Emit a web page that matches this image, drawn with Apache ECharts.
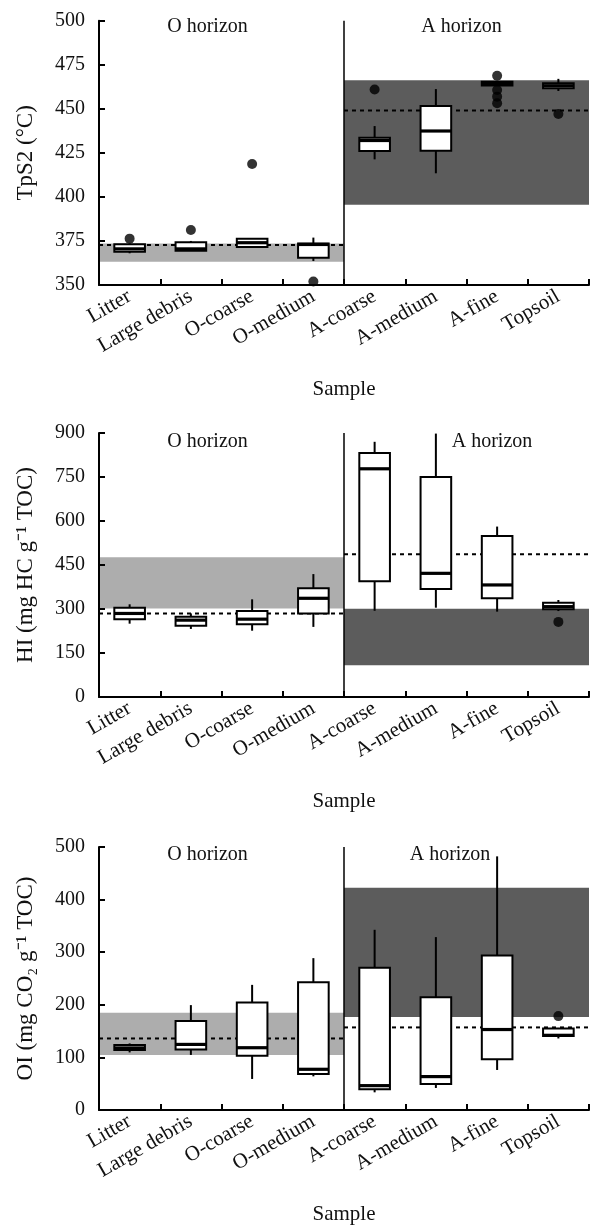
<!DOCTYPE html>
<html><head><meta charset="utf-8">
<script src="https://cdn.jsdelivr.net/npm/echarts@6/dist/echarts.min.js"></script>
<style>html,body{margin:0;padding:0;background:#fff}#c{width:590px;height:1228px}</style>
</head><body><div id="c"></div>
<script>
const categories = ['Litter','Large debris','O-coarse','O-medium','A-coarse','A-medium','A-fine','Topsoil'];

// Panel 1: TpS2 (°C)
const tpsMin    = [368.0, 369.5, 371.5, 363.6, 421.3, 413.4, 463.2, 460.1];
const tpsQ1     = [368.9, 369.5, 371.6, 365.5, 426.0, 426.2, 463.2, 461.6];
const tpsMedian = [370.5, 370.5, 374.0, 373.0, 432.0, 437.4, 464.3, 463.1];
const tpsQ3     = [373.1, 374.2, 376.3, 373.5, 433.6, 451.6, 465.4, 464.5];
const tpsMax    = [373.5, 375.0, 376.5, 376.9, 440.2, 461.2, 465.4, 467.0];
const tpsOutCat = ['Litter','Large debris','O-coarse','O-medium','A-coarse','A-fine','A-fine','A-fine','A-fine','Topsoil'];
const tpsOutVal = [376.3, 381.2, 418.7, 352.0, 461.0, 468.8, 460.7, 456.9, 453.1, 447.0];
const tpsOBand  = [363.2, 373.6];
const tpsABand  = [395.6, 466.2];
const tpsOMean  = 372.7;
const tpsAMean  = 449.0;
const tpsTicks  = [350, 500, 25];

// Panel 2: HI
const hiMin    = [250, 232, 226, 239, 294, 304.5, 291, 293];
const hiQ1     = [265.4, 243, 248.4, 285, 394.5, 368, 336.5, 299];
const hiMedian = [284.8, 262, 265.4, 336.5, 778, 421.6, 382, 308];
const hiQ3     = [304.5, 274, 293, 370.5, 831.6, 749.6, 549, 321.5];
const hiMax    = [316, 285, 333, 419, 870, 898, 581, 330.7];
const hiOutCat = ['Topsoil'];
const hiOutVal = [256];
const hiOBand  = [302, 476];
const hiABand  = [108, 301];
const hiOMean  = 285;
const hiAMean  = 487;
const hiTicks  = [0, 900, 150];

// Panel 3: OI
const oiMin    = [109.5, 104.7, 59, 64, 33.6, 41.9, 76.1, 136];
const oiQ1     = [114, 115.2, 103, 68.5, 39.3, 49.5, 96.4, 140.5];
const oiMedian = [118, 124.7, 118.4, 77.4, 46.3, 63.5, 153, 142];
const oiQ3     = [123.4, 169, 204.5, 243, 270.3, 214.5, 293.8, 155];
const oiMax    = [126.6, 199.4, 237.9, 288.7, 342.6, 328.7, 482.2, 156];
const oiOutCat = ['Topsoil'];
const oiOutVal = [178.5];
const oiOBand  = [104.7, 185];
const oiABand  = [177, 422.6];
const oiOMean  = 136;
const oiAMean  = 157;
const oiTicks  = [0, 500, 100];

const yNames = ['TpS2 (°C)', 'HI (mg HC g\u207B\u00B9 TOC)', 'OI (mg CO\u2082 g\u207B\u00B9 TOC)'];
const xName = 'Sample';
const horizonNames = ['O horizon', 'A horizon'];

const FONT = "'Liberation Serif','Times New Roman',serif";
const TXT = '#111';
const LIGHT = '#adadad';
const DARK = '#5c5c5c';

const panels = [
  {min:tpsMin,q1:tpsQ1,med:tpsMedian,q3:tpsQ3,max:tpsMax,oc:tpsOutCat,ov:tpsOutVal,ob:tpsOBand,ab:tpsABand,om:tpsOMean,am:tpsAMean,t:tpsTicks},
  {min:hiMin,q1:hiQ1,med:hiMedian,q3:hiQ3,max:hiMax,oc:hiOutCat,ov:hiOutVal,ob:hiOBand,ab:hiABand,om:hiOMean,am:hiAMean,t:hiTicks},
  {min:oiMin,q1:oiQ1,med:oiMedian,q3:oiQ3,max:oiMax,oc:oiOutCat,ov:oiOutVal,ob:oiOBand,ab:oiABand,om:oiOMean,am:oiAMean,t:oiTicks}
];

const gridDefs = [
  {left:99, right:1, top:20.7, height:264.3},
  {left:99, right:1, top:433, height:264},
  {left:99, right:1, top:847, height:263}
];
const horizonPos = [
  {o:[207.5, 27], a:[461.5, 27]},
  {o:[207.5, 442], a:[492, 442]},
  {o:[207.5, 855], a:[450, 855]}
];

function renderBox(params, api) {
  const x = api.value(0);
  const lo = api.coord([x, api.value(1)]);
  const q1 = api.coord([x, api.value(2)]);
  const md = api.coord([x, api.value(3)]);
  const q3 = api.coord([x, api.value(4)]);
  const hi = api.coord([x, api.value(5)]);
  const cx = lo[0];
  const bw = api.size([1, 0])[0] * 0.5;
  const st = {stroke:'#000', lineWidth:2};
  return {type:'group', children:[
    {type:'line', shape:{x1:cx, y1:lo[1], x2:cx, y2:q1[1]}, style:st},
    {type:'line', shape:{x1:cx, y1:q3[1], x2:cx, y2:hi[1]}, style:st},
    {type:'rect', shape:{x:cx-bw/2, y:q3[1], width:bw, height:q1[1]-q3[1]}, style:{fill:'#fff', stroke:'#000', lineWidth:2}},
    {type:'line', shape:{x1:cx-bw/2, y1:md[1], x2:cx+bw/2, y2:md[1]}, style:{stroke:'#000', lineWidth:3.2}}
  ]};
}
function renderBand(params, api) {
  const p0 = api.coord([api.value(0), api.value(3)]);
  const p1 = api.coord([api.value(1), api.value(2)]);
  return {type:'rect', shape:{x:p0[0], y:p0[1], width:p1[0]-p0[0], height:p1[1]-p0[1]},
          style:{fill: params.dataIndex === 0 ? LIGHT : DARK}};
}

const grid = [], xAxis = [], yAxis = [], series = [], graphic = [];
panels.forEach((p, k) => {
  grid.push(gridDefs[k]);
  xAxis.push({
    type:'category', gridIndex:k, data:categories, z:10, position:'bottom',
    axisLine:{show:true, onZero:false, lineStyle:{color:'#000', width:2}},
    axisTick:{show:true, inside:true, length:6, lineStyle:{color:'#000', width:2}},
    axisLabel:{rotate:30, interval:0, margin:10, fontSize:21, fontFamily:FONT, color:TXT},
    splitLine:{show:false},
    name:xName, nameLocation:'middle', nameGap:94,
    nameTextStyle:{fontSize:21, fontFamily:FONT, color:TXT}
  });
  xAxis.push({type:'value', gridIndex:k, min:-0.5, max:7.5, show:false, position:'bottom',
    axisLine:{onZero:false}});
  yAxis.push({
    type:'value', gridIndex:k, min:p.t[0], max:p.t[1], interval:p.t[2], z:10, position:'left',
    axisLine:{show:true, onZero:false, lineStyle:{color:'#000', width:2}},
    axisTick:{show:true, inside:true, length:6, lineStyle:{color:'#000', width:2}},
    axisLabel:{margin:14, fontSize:20, fontFamily:FONT, color:TXT},
    splitLine:{show:false},
    name:yNames[k], nameLocation:'middle', nameGap:62,
    nameTextStyle:{fontSize:23, fontFamily:FONT, color:TXT}
  });
  const cx = 2*k, vx = 2*k+1;
  series.push({
    type:'custom', xAxisIndex:vx, yAxisIndex:k, z:1, silent:true,
    renderItem:renderBand, encode:{x:[0,1], y:[2,3]},
    data:[[-0.5, 3.5, p.ob[0], p.ob[1]], [3.5, 7.5, p.ab[0], p.ab[1]]]
  });
  series.push({
    type:'line', xAxisIndex:vx, yAxisIndex:k, z:2, silent:true, symbol:'none',
    lineStyle:{color:'#000', width:2, type:[4,4]},
    data:[[-0.5, p.om], [3.5, p.om]]
  });
  series.push({
    type:'line', xAxisIndex:vx, yAxisIndex:k, z:2, silent:true, symbol:'none',
    lineStyle:{color:'#000', width:2, type:[4,4]},
    data:[[3.5, p.am], [7.5, p.am]]
  });
  series.push({
    type:'line', xAxisIndex:vx, yAxisIndex:k, z:5, silent:true, symbol:'none',
    lineStyle:{color:'#000', width:1.5},
    data:[[3.5, p.t[0]], [3.5, p.t[1]]]
  });
  series.push({
    type:'custom', xAxisIndex:cx, yAxisIndex:k, z:3, silent:true,
    renderItem:renderBox, encode:{x:0, y:[1,2,3,4,5]},
    data:categories.map((c, i) => [i, p.min[i], p.q1[i], p.med[i], p.q3[i], p.max[i]])
  });
  series.push({
    type:'scatter', xAxisIndex:cx, yAxisIndex:k, z:4, silent:true, clip:false,
    symbolSize:10, itemStyle:{color:'#000'},
    data:p.oc.map((c, i) => [c, p.ov[i]])
  });
  const hp = horizonPos[k];
  graphic.push({type:'text', x:hp.o[0], y:hp.o[1], z:20,
    style:{text:horizonNames[0], fontSize:20, fontFamily:FONT, fill:TXT, align:'center', verticalAlign:'middle'}});
  graphic.push({type:'text', x:hp.a[0], y:hp.a[1], z:20,
    style:{text:horizonNames[1], fontSize:20, fontFamily:FONT, fill:TXT, align:'center', verticalAlign:'middle'}});
});

const chart = echarts.init(document.getElementById('c'), null, {renderer:'canvas'});
chart.setOption({animation:false, backgroundColor:'#fff', grid, xAxis, yAxis, series, graphic});
</script></body></html>
